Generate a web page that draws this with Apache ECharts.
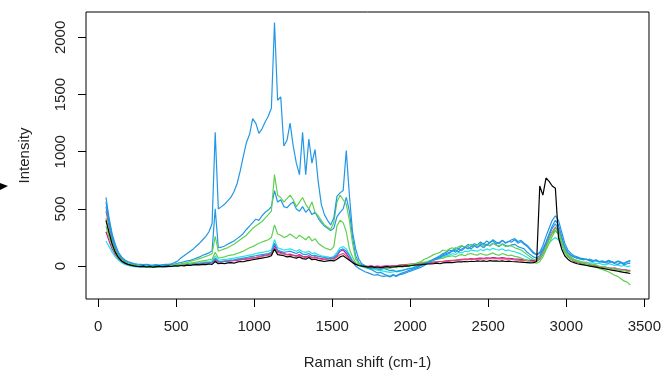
<!DOCTYPE html>
<html>
<head>
<meta charset="utf-8">
<script src="https://cdn.jsdelivr.net/npm/echarts@6/dist/echarts.min.js"></script>
<style>
html,body{margin:0;padding:0;background:#fff;}
#chart{width:664px;height:375px;}
</style>
</head>
<body>
<div id="chart"></div>
<script>
// Raman shift grid (cm-1): 50, 70, ..., 3410
const shifts = [];
for (let s = 50; s <= 3410; s += 20) shifts.push(s);

const xTicks = [0, 500, 1000, 1500, 2000, 2500, 3000, 3500];
const yTicks = [0, 500, 1000, 1500, 2000];

const specBlueBig = [
 600, 420, 280, 190, 120, 80, 55, 40, 30, 22,
 18, 15, 12, 14, 10, 8, 12, 9, 11, 14,
 15, 20, 30, 45, 70, 90, 110, 130, 150, 175,
 200, 230, 260, 300, 370, 1170, 500, 520, 540, 570,
 600, 650, 720, 830, 960, 1080, 1150, 1290, 1250, 1160,
 1200, 1260, 1310, 1380, 2130, 1450, 1480, 1050, 1100, 1250,
 1050, 900, 800, 1170, 800, 1110, 900, 1020, 740, 540,
 450, 400, 360, 420, 610, 640, 660, 1010, 620, 300,
 150, 60, 20, 5, -10, -20, -15, -25, -30, -20,
 -30, -40, -35, -50, -45, -40, -30, -25, -20, -10,
 0, 10, 20, 30, 45, 60, 70, 80, 100, 110,
 120, 130, 140, 125, 150, 165, 150, 170, 180, 160,
 190, 200, 180, 210, 220, 195, 205, 225, 200, 215,
 210, 230, 200, 215, 190, 170, 140, 110, 100, 120,
 180, 260, 330, 400, 440, 400, 300, 200, 140, 110,
 90, 80, 70, 65, 55, 60, 50, 45, 40, 35,
 30, 25, 40, 20, 15, 30, 10, 20, 25
];
const specBlue2 = [
 560, 400, 260, 170, 110, 70, 45, 30, 22, 15,
 10, 8, 5, 12, 6, 3, 8, 5, 10, 12,
 10, 15, 18, 25, 30, 38, 45, 50, 60, 70,
 80, 95, 105, 115, 135, 500, 160, 165, 175, 190,
 205, 220, 240, 260, 285, 320, 350, 380, 410, 400,
 440, 470, 490, 520, 660, 560, 580, 520, 510, 540,
 560, 500, 480, 520, 470, 500, 450, 470, 420, 380,
 350, 330, 310, 330, 430, 470, 500, 600, 480, 250,
 90, 30, 10, -5, -20, -30, -45, -60, -55, -70,
 -80, -90, -75, -85, -70, -60, -50, -40, -30, -20,
 -10, 5, 15, 30, 40, 55, 60, 75, 90, 100,
 110, 140, 120, 150, 135, 160, 170, 150, 175, 165,
 180, 160, 190, 175, 200, 185, 170, 195, 180, 175,
 185, 190, 170, 160, 150, 120, 100, 80, 70, 90,
 140, 200, 270, 330, 370, 320, 240, 150, 110, 90,
 80, 70, 60, 55, 60, 45, 40, 50, 35, 40,
 30, 45, 35, 25, 40, 30, 20, 35, 40
];
const specGreen1 = [
 420, 300, 200, 130, 85, 55, 35, 25, 15, 10,
 5, 0, -5, -10, -8, -12, -5, -10, -6, -3,
 0, 5, 10, 15, 20, 25, 30, 40, 50, 55,
 65, 75, 85, 95, 110, 260, 130, 140, 150, 160,
 175, 190, 210, 230, 250, 270, 300, 330, 350, 370,
 390, 420, 450, 480, 800, 620, 600, 560, 590, 620,
 580, 520, 560, 600, 540, 500, 560, 470, 440, 400,
 360, 340, 320, 380, 560, 620, 580, 540, 400, 200,
 60, 20, 0, -10, -15, -10, -20, -15, -25, -20,
 -15, -20, -10, -15, -5, -10, 0, 5, 10, 20,
 30, 40, 60, 70, 85, 100, 110, 120, 140, 130,
 150, 160, 145, 170, 180, 165, 175, 190, 170, 185,
 195, 175, 190, 180, 200, 185, 175, 190, 170, 180,
 175, 160, 150, 140, 120, 100, 80, 60, 50, 70,
 110, 170, 230, 290, 330, 300, 220, 140, 100, 80,
 60, 50, 40, 30, 35, 20, 15, 10, 0, -10,
 -10, -20, -15, -30, -25, -40, -35, -50, -45
];
const specGreen2 = [
 350, 250, 170, 110, 70, 45, 30, 20, 12, 8,
 5, 2, -2, -5, -3, 0, -4, 2, 0, 3,
 5, 8, 10, 12, 15, 20, 22, 25, 30, 35,
 40, 45, 50, 55, 60, 120, 70, 75, 80, 90,
 95, 100, 110, 120, 130, 145, 160, 170, 185, 200,
 210, 220, 230, 250, 360, 280, 270, 250, 260, 280,
 260, 240, 270, 250, 230, 260, 220, 240, 200, 180,
 160, 150, 140, 170, 350, 400, 380, 300, 150, 80,
 30, 10, 0, -10, -15, -20, -15, -25, -20, -15,
 -20, -15, -10, -5, 0, 5, 0, 10, 15, 20,
 25, 30, 35, 40, 50, 55, 60, 65, 70, 80,
 85, 90, 80, 95, 100, 90, 105, 110, 100, 95,
 110, 100, 95, 105, 115, 100, 95, 110, 100, 90,
 95, 85, 80, 70, 60, 50, 40, 30, 25, 40,
 80, 140, 200, 260, 310, 280, 200, 120, 80, 60,
 50, 40, 30, 20, 15, 5, 0, -10, -20, -30,
 -40, -50, -65, -80, -90, -110, -130, -140, -165
];
const specBlack = [
 400, 290, 190, 120, 75, 45, 28, 15, 8, 2,
 -2, -5, 0, -8, -3, -10, -5, 0, -6, -2,
 0, -4, 3, 0, 5, 2, 8, 5, 10, 12,
 10, 15, 12, 18, 15, 40, 20, 25, 22, 28,
 30, 25, 35, 40, 38, 45, 50, 55, 60, 65,
 70, 75, 80, 90, 150, 100, 95, 90, 80, 85,
 75, 70, 80, 65, 60, 75, 55, 60, 50, 45,
 40, 45, 50, 45, 60, 80, 90, 70, 50, 30,
 15, 5, 0, -5, -10, -5, -12, -8, -15, -10,
 -5, -10, -8, -5, 0, -3, 2, 0, 5, 8,
 10, 12, 15, 18, 20, 22, 25, 20, 28, 30,
 32, 30, 35, 38, 36, 40, 38, 42, 40, 45,
 42, 45, 40, 48, 44, 46, 42, 45, 40, 43,
 40, 38, 36, 35, 32, 30, 28, 30, 40, 700,
 620, 770, 740, 700, 680, 250, 150, 90, 60, 40,
 30, 20, 15, 10, 5, 0, -5, -10, -15, -20,
 -25, -30, -35, -40, -45, -50, -55, -60, -65
];
const specRed = [
 480, 340, 220, 140, 90, 55, 35, 20, 12, 5,
 0, -3, 2, -5, 0, -2, 3, -1, 2, 4,
 3, 6, 4, 8, 10, 12, 10, 15, 18, 20,
 22, 25, 28, 30, 32, 60, 38, 40, 42, 45,
 48, 50, 55, 58, 60, 65, 70, 72, 75, 80,
 85, 90, 95, 100, 160, 120, 110, 105, 100, 95,
 90, 85, 95, 80, 75, 85, 70, 75, 65, 60,
 55, 60, 65, 60, 80, 100, 110, 90, 60, 35,
 20, 10, 5, 0, -5, 0, -8, -3, -10, -5,
 0, -5, 2, -2, 5, 8, 10, 12, 15, 18,
 20, 22, 25, 28, 30, 32, 35, 38, 40, 42,
 45, 48, 50, 52, 55, 58, 55, 60, 58, 62,
 60, 65, 62, 66, 64, 68, 62, 65, 60, 63,
 58, 55, 52, 50, 48, 45, 42, 40, 45, 60,
 110, 170, 240, 300, 340, 300, 220, 140, 90, 60,
 45, 35, 28, 20, 15, 10, 5, 0, -5, -10,
 -15, -20, -25, -20, -30, -35, -30, -40, -45
];
const specMagenta = [
 300, 220, 150, 100, 65, 40, 25, 15, 8, 3,
 0, -2, -5, -3, 0, -4, -2, 0, -3, 2,
 0, 3, 5, 6, 8, 10, 12, 14, 15, 18,
 20, 22, 25, 28, 30, 50, 35, 38, 40, 42,
 45, 48, 50, 55, 58, 60, 65, 70, 75, 80,
 90, 95, 100, 110, 180, 130, 120, 110, 100, 105,
 95, 90, 100, 85, 80, 90, 75, 80, 70, 65,
 60, 65, 70, 65, 90, 130, 140, 110, 70, 40,
 20, 10, 5, 0, -3, 2, -5, 0, -5, 0,
 2, 0, 5, 3, 8, 10, 12, 15, 18, 20,
 22, 25, 28, 30, 32, 35, 38, 40, 42, 45,
 48, 50, 52, 55, 58, 60, 62, 65, 62, 68,
 70, 68, 72, 70, 75, 72, 70, 74, 70, 68,
 65, 62, 60, 58, 55, 52, 50, 48, 55, 75,
 120, 180, 240, 290, 310, 280, 200, 130, 85, 60,
 45, 35, 25, 20, 15, 10, 5, 0, -5, -8,
 -10, -15, -20, -18, -25, -28, -30, -35, -38
];
const specCyan = [
 220, 170, 120, 80, 50, 30, 15, 5, 0, -5,
 -8, -10, -12, -8, -15, -10, -12, -8, -5, -3,
 0, 2, 5, 8, 10, 15, 18, 20, 25, 28,
 30, 35, 38, 40, 45, 90, 50, 55, 58, 60,
 65, 70, 75, 80, 85, 90, 95, 100, 110, 115,
 120, 125, 130, 140, 230, 160, 150, 140, 145, 150,
 140, 130, 145, 125, 120, 130, 110, 115, 100, 90,
 85, 80, 75, 85, 120, 160, 170, 150, 100, 50,
 20, 5, -5, -15, -20, -25, -30, -35, -40, -45,
 -50, -55, -50, -45, -40, -35, -30, -20, -15, -5,
 0, 10, 20, 30, 40, 50, 60, 70, 80, 90,
 95, 110, 100, 120, 115, 130, 125, 140, 135, 130,
 145, 135, 150, 140, 155, 145, 140, 150, 135, 140,
 130, 125, 115, 105, 90, 75, 60, 50, 45, 60,
 100, 150, 200, 230, 250, 230, 180, 120, 90, 70,
 55, 45, 40, 35, 30, 25, 30, 20, 25, 15,
 10, 20, 15, 5, 10, 0, 5, -5, 0
];
const specBlue3 = [
 520, 370, 240, 150, 95, 60, 38, 22, 12, 5,
 0, -5, -8, -3, -10, -6, -12, -8, -5, -10,
 -5, -2, 0, 3, 5, 8, 10, 12, 15, 18,
 20, 22, 25, 30, 32, 70, 38, 40, 45, 48,
 52, 55, 60, 65, 70, 75, 80, 85, 90, 95,
 100, 105, 110, 120, 200, 140, 130, 120, 125, 130,
 120, 110, 125, 105, 100, 110, 90, 95, 85, 80,
 75, 70, 65, 75, 100, 140, 150, 130, 90, 40,
 0, -20, -35, -50, -60, -70, -80, -75, -85, -90,
 -85, -95, -80, -90, -75, -70, -60, -50, -40, -30,
 -20, -10, 5, 20, 40, 60, 75, 90, 110, 120,
 140, 130, 160, 150, 175, 165, 190, 170, 195, 185,
 210, 190, 220, 200, 230, 210, 195, 225, 205, 215,
 230, 240, 215, 225, 200, 180, 150, 120, 100, 110,
 150, 210, 280, 350, 400, 360, 260, 170, 120, 95,
 80, 70, 65, 55, 60, 50, 45, 55, 40, 45,
 35, 50, 40, 30, 45, 35, 25, 40, 50
];

const spectra = [
  { name: 'S1', color: '#28E2E5', values: specCyan },
  { name: 'S2', color: '#CD0BBC', values: specMagenta },
  { name: 'S3', color: '#DF536B', values: specRed },
  { name: 'S4', color: '#2297E6', values: specBlue3 },
  { name: 'S5', color: '#61D04F', values: specGreen2 },
  { name: 'S6', color: '#2297E6', values: specBlue2 },
  { name: 'S7', color: '#61D04F', values: specGreen1 },
  { name: 'S8', color: '#2297E6', values: specBlueBig },
  { name: 'S9', color: '#000000', values: specBlack }
];

const textStyle = { fontFamily: 'Liberation Sans, Arial, sans-serif', fontSize: 15, color: '#222' };

const chart = echarts.init(document.getElementById('chart'), null, { renderer: 'canvas' });
chart.setOption({
  animation: false,
  backgroundColor: '#fff',
  grid: { left: 86, right: 10, top: 12, bottom: 73, show: true, borderColor: '#000', borderWidth: 1, backgroundColor: 'transparent' },
  xAxis: {
    type: 'value', min: -78, max: 3530,
    name: 'Raman shift (cm-1)', nameLocation: 'middle', nameGap: 56,
    nameTextStyle: textStyle,
    axisLine: { show: false, onZero: false },
    axisTick: { show: true, inside: false, length: 8, customValues: xTicks, lineStyle: { color: '#000' } },
    axisLabel: { customValues: xTicks, margin: 20, ...textStyle, formatter: v => String(v) },
    splitLine: { show: false }
  },
  yAxis: {
    type: 'value', min: -288, max: 2222,
    name: 'Intensity', nameLocation: 'middle', nameGap: 54, nameRotate: 90,
    nameTextStyle: textStyle,
    axisLine: { show: false, onZero: false },
    axisTick: { show: true, inside: false, length: 8, customValues: yTicks, lineStyle: { color: '#000' } },
    axisLabel: { customValues: yTicks, margin: 18, rotate: 90, ...textStyle, formatter: v => String(v) },
    splitLine: { show: false }
  },
  graphic: [{
    type: 'polygon', shape: { points: [[0, 183], [8, 186], [0, 190]] }, style: { fill: '#000' }
  }],
  series: spectra.map(s => ({
    name: s.name, type: 'line', showSymbol: false, symbol: 'none',
    lineStyle: { width: 1.2, color: s.color }, itemStyle: { color: s.color },
    data: shifts.map((x, i) => [x, s.values[i]]),
    z: 2
  }))
});
</script>
</body>
</html>
